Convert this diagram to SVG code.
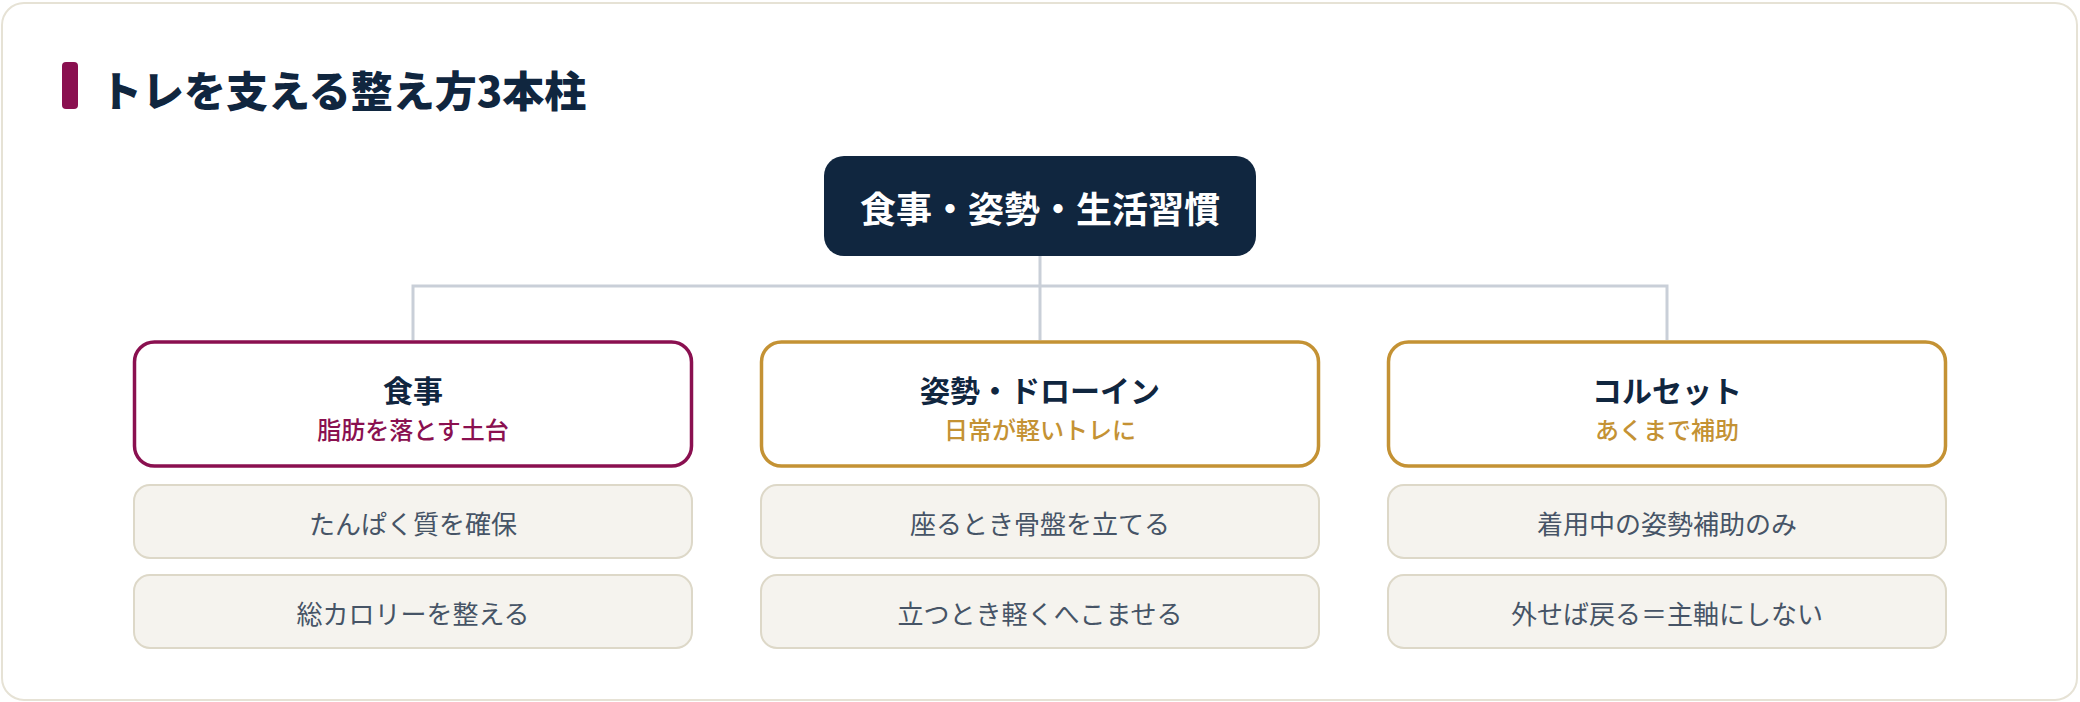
<svg xmlns="http://www.w3.org/2000/svg" width="2080" height="702" viewBox="0 0 2080 702">
<style>
text{font-family:"Noto Sans CJK JP","Noto Sans",sans-serif;text-anchor:middle;dominant-baseline:central}
.title{font-size:42px;font-weight:900;fill:#10263f;text-anchor:start}
.root{fill:#10263f}
.rootT{font-size:36px;font-weight:700;fill:#ffffff}
.card{fill:#ffffff;stroke-width:3.5}
.c1{stroke:#8a1050}
.c2{stroke:#c49234}
.cardT{font-size:30px;font-weight:700;fill:#10263f}
.sub1{font-size:24px;font-weight:500;fill:#8a1050}
.sub2{font-size:24px;font-weight:500;fill:#c49234}
.item{fill:#f5f3ee;stroke:#ddd8c8;stroke-width:2}
.itemT{font-size:26px;fill:#465466}
.conn{fill:none;stroke:#c9cfd8;stroke-width:3}
</style>
<rect x="2" y="3" width="2075" height="697" rx="22" fill="#ffffff" stroke="#e6e2d5" stroke-width="2"/>
<g id="title">
<rect x="62" y="62" width="16" height="47" rx="4" fill="#8a1050"/>
<text class="title" x="100" y="88">トレを支える整え方3本柱</text>
</g>
<g id="connectors">
<path class="conn" d="M1040 256 V286 M413 340 V286 H1667 V340 M1040 286 V340"/>
</g>
<g id="root">
<rect class="root" x="824" y="156" width="432" height="100" rx="20"/>
<text class="rootT" x="1040" y="207">食事・姿勢・生活習慣</text>
</g>
<g id="pillar-food">
<rect class="card c1" x="134.5" y="342" width="557" height="124" rx="20"/>
<text class="cardT" x="413" y="389">食事</text>
<text class="sub1" x="413" y="428">脂肪を落とす土台</text>
</g>
<g id="food-1">
<rect class="item" x="134" y="485" width="558" height="73" rx="16"/>
<text class="itemT" x="413" y="522">たんぱく質を確保</text>
</g>
<g id="food-2">
<rect class="item" x="134" y="575" width="558" height="73" rx="16"/>
<text class="itemT" x="413" y="612">総カロリーを整える</text>
</g>
<g id="pillar-posture">
<rect class="card c2" x="761.5" y="342" width="557" height="124" rx="20"/>
<text class="cardT" x="1040" y="389">姿勢・ドローイン</text>
<text class="sub2" x="1040" y="428">日常が軽いトレに</text>
</g>
<g id="posture-1">
<rect class="item" x="761" y="485" width="558" height="73" rx="16"/>
<text class="itemT" x="1040" y="522">座るとき骨盤を立てる</text>
</g>
<g id="posture-2">
<rect class="item" x="761" y="575" width="558" height="73" rx="16"/>
<text class="itemT" x="1040" y="612">立つとき軽くへこませる</text>
</g>
<g id="pillar-corset">
<rect class="card c2" x="1388.5" y="342" width="557" height="124" rx="20"/>
<text class="cardT" x="1667" y="389">コルセット</text>
<text class="sub2" x="1667" y="428">あくまで補助</text>
</g>
<g id="corset-1">
<rect class="item" x="1388" y="485" width="558" height="73" rx="16"/>
<text class="itemT" x="1667" y="522">着用中の姿勢補助のみ</text>
</g>
<g id="corset-2">
<rect class="item" x="1388" y="575" width="558" height="73" rx="16"/>
<text class="itemT" x="1667" y="612">外せば戻る＝主軸にしない</text>
</g>
</svg>
